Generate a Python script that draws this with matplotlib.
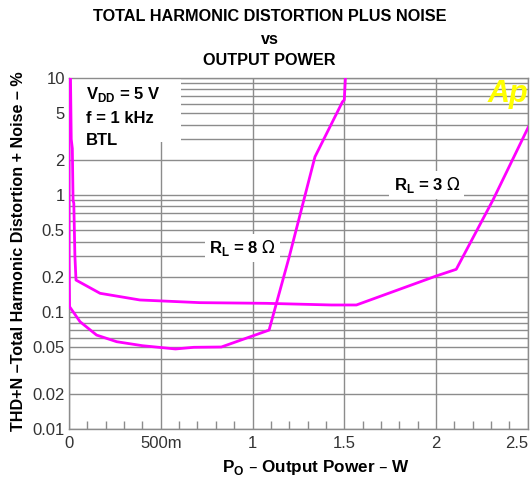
import numpy as np
import matplotlib.pyplot as plt
from matplotlib.ticker import FixedLocator, NullFormatter, MultipleLocator

plt.rcParams['font.family'] = ['Liberation Sans', 'DejaVu Sans']

# R_L = 8 ohm
p_8 = [0.0, 0.0, 0.003, 0.06, 0.15, 0.26, 0.40, 0.58, 0.68, 0.83, 1.09, 1.20, 1.34, 1.49, 1.50, 1.506]
thd_8 = [10, 0.3, 0.111, 0.0826, 0.0635, 0.0557, 0.0515, 0.0483, 0.0499, 0.0502, 0.070, 0.297, 2.12, 6.27, 6.5, 10]

# R_L = 3 ohm
p_3 = [0.008, 0.012, 0.018, 0.022, 0.026, 0.032, 0.038, 0.169, 0.386, 0.713, 1.076, 1.43, 1.566, 2.0, 2.11, 2.31, 2.504]
thd_3 = [10, 3.0, 2.5, 0.9, 0.85, 0.3, 0.1875, 0.1445, 0.1267, 0.1202, 0.1186, 0.1148, 0.1148, 0.203, 0.2317, 0.906, 3.84]

ytick_vals = [0.01, 0.02, 0.05, 0.1, 0.2, 0.5, 1, 2, 5, 10]
ytick_labels = ['0.01', '0.02', '0.05', '0.1', '0.2', '0.5', '1', '2', '5', '10']
xtick_vals = [0, 0.5, 1, 1.5, 2, 2.5]
xtick_labels = ['0', '500m', '1', '1.5', '2', '2.5']

fig = plt.figure(figsize=(5.31, 4.88), dpi=100)
ax = fig.add_axes([0.130, 0.121, 0.864, 0.719])

ax.set_yscale('log')
ax.set_ylim(0.01, 10)
ax.set_xlim(0, 2.5)

# grid
minor_y = [m * 10.0 ** e for e in (-2, -1, 0) for m in range(2, 10)]
ax.yaxis.set_major_locator(FixedLocator(ytick_vals))
ax.yaxis.set_minor_locator(FixedLocator(minor_y))
ax.yaxis.set_minor_formatter(NullFormatter())
ax.set_yticklabels(ytick_labels)
ax.set_xticks(xtick_vals)
ax.set_xticklabels(xtick_labels)
ax.xaxis.set_minor_locator(MultipleLocator(0.1))
# last label sits on the right edge
ax.get_xticklabels()[-1].set_horizontalalignment('right')

gc = '#8c8c8c'
ax.grid(True, which='both', axis='y', color=gc, linewidth=1.0)
ax.grid(True, which='major', axis='x', color=gc, linewidth=1.0)
ax.tick_params(axis='y', which='both', length=0, labelsize=12, labelcolor='#333333', pad=3)
ax.tick_params(axis='x', which='major', length=0, labelsize=12, labelcolor='#333333', pad=5)
ax.tick_params(axis='x', which='minor', direction='in', length=6, color=gc, width=1)
for s in ax.spines.values():
    s.set_color(gc)
    s.set_linewidth(1.0)
ax.set_axisbelow(True)

ax.plot(p_8, thd_8, color='#ff00ff', linewidth=2.0, zorder=3)
ax.plot(p_3, thd_3, color='#ff00ff', linewidth=2.0, zorder=3)

# condition box
ax.add_patch(plt.Rectangle((0.004, 0.818), 0.24, 0.18, transform=ax.transAxes,
                           facecolor='white', edgecolor='none', zorder=2))
ax.text(0.09, 7.3, r'V$_{\mathregular{DD}}$ = 5 V', fontsize=12, fontweight='bold', va='center', zorder=4)
ax.text(0.09, 4.5, 'f = 1 kHz', fontsize=12, fontweight='bold', va='center', zorder=4)
ax.text(0.09, 2.95, 'BTL', fontsize=12, fontweight='bold', va='center', zorder=4)

box = dict(facecolor='white', edgecolor='none', pad=3)
ax.text(0.947, 0.352, r'R$_{\mathregular{L}}$ = 8 $\Omega$', fontsize=12, fontweight='bold',
        ha='center', va='center', bbox=box, zorder=4)
ax.text(1.95, 1.22, r'R$_{\mathregular{L}}$ = 3 $\Omega$', fontsize=12, fontweight='bold',
        ha='center', va='center', bbox=box, zorder=4)

ax.text(2.39, 7.3, 'Ap', fontsize=22, fontweight='bold', style='italic', color='#ffff00',
        ha='center', va='center', zorder=4)

fig.text(0.508, 0.967, 'TOTAL HARMONIC DISTORTION PLUS NOISE', ha='center', va='center',
         fontsize=11.7, fontweight='bold')
fig.text(0.508, 0.920, 'vs', ha='center', va='center', fontsize=11.7, fontweight='bold')
fig.text(0.508, 0.877, 'OUTPUT POWER', ha='center', va='center', fontsize=11.7, fontweight='bold')

fig.text(0.595, 0.043, r'P$_{\mathregular{O}}$ – Output Power – W', ha='center', va='center',
         fontsize=12.3, fontweight='bold')
fig.text(0.034, 0.485, 'THD+N –Total Harmonic Distortion + Noise – %', ha='center', va='center',
         rotation=90, fontsize=11.6, fontweight='bold')

fig.savefig('out.png', dpi=100)
